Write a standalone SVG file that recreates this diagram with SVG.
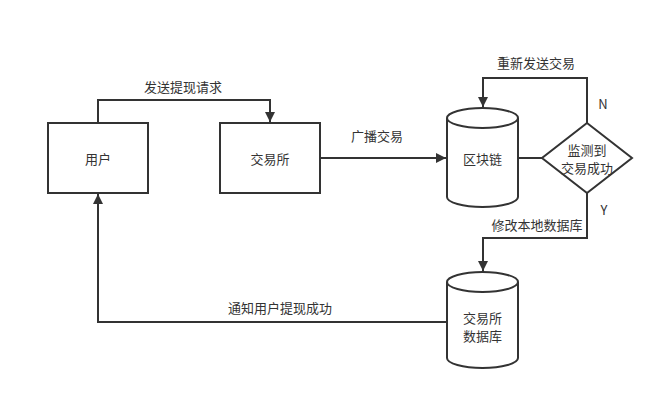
<svg xmlns="http://www.w3.org/2000/svg" width="664" height="404" viewBox="0 0 664 404">
<style>
.shape{fill:#fff;stroke:#333;stroke-width:2}
.edge{fill:none;stroke:#333;stroke-width:2}
text{font-family:"Noto Sans CJK SC","Liberation Sans",sans-serif;font-size:13px;fill:#333;text-anchor:middle;dominant-baseline:central}
</style>
<defs>
<marker id="arr" viewBox="0 0 10 10" refX="10" refY="5" markerWidth="11" markerHeight="10" markerUnits="userSpaceOnUse" orient="auto">
<path d="M0,0 L10,5 L0,10 Z" fill="#333"/>
</marker>
</defs>
<rect width="664" height="404" fill="#fff"/>
<g id="connectors">
<path class="edge" d="M98,123 V100 H270 V122" marker-end="url(#arr)"/>
<text x="183" y="86">发送提现请求</text>
<path class="edge" d="M320,158 H446" marker-end="url(#arr)"/>
<text x="377" y="135">广播交易</text>
<path class="edge" d="M518,158 H542"/>
<path class="edge" d="M587,123 V78 H483 V107" marker-end="url(#arr)"/>
<text x="536" y="62">重新发送交易</text>
<text x="603" y="103">N</text>
<path class="edge" d="M587,193 V238 H483 V271" marker-end="url(#arr)"/>
<text x="537" y="224">修改本地数据库</text>
<text x="604" y="209">Y</text>
<path class="edge" d="M447,322 H98 V194" marker-end="url(#arr)"/>
<text x="280" y="307">通知用户提现成功</text>
</g>
<g id="user">
<rect class="shape" x="48" y="123" width="100" height="70"/>
<text x="98" y="158">用户</text>
</g>
<g id="exchange">
<rect class="shape" x="220" y="123" width="100" height="70"/>
<text x="270" y="158">交易所</text>
</g>
<g id="blockchain">
<path class="shape" d="M447,118 A35.5,10 0 0 1 518,118 V197 A35.5,10 0 0 1 447,197 Z"/>
<path class="edge" d="M447,118 A35.5,10 0 0 0 518,118"/>
<text x="482.5" y="158">区块链</text>
</g>
<g id="decision">
<path class="shape" d="M587,123 L632,158 L587,193 L542,158 Z"/>
<text x="587" y="149">监测到</text>
<text x="587" y="167">交易成功</text>
</g>
<g id="exchange-db">
<path class="shape" d="M447,282 A35.5,10 0 0 1 518,282 V358 A35.5,10 0 0 1 447,358 Z"/>
<path class="edge" d="M447,282 A35.5,10 0 0 0 518,282"/>
<text x="482.5" y="317">交易所</text>
<text x="482.5" y="335">数据库</text>
</g>
</svg>
